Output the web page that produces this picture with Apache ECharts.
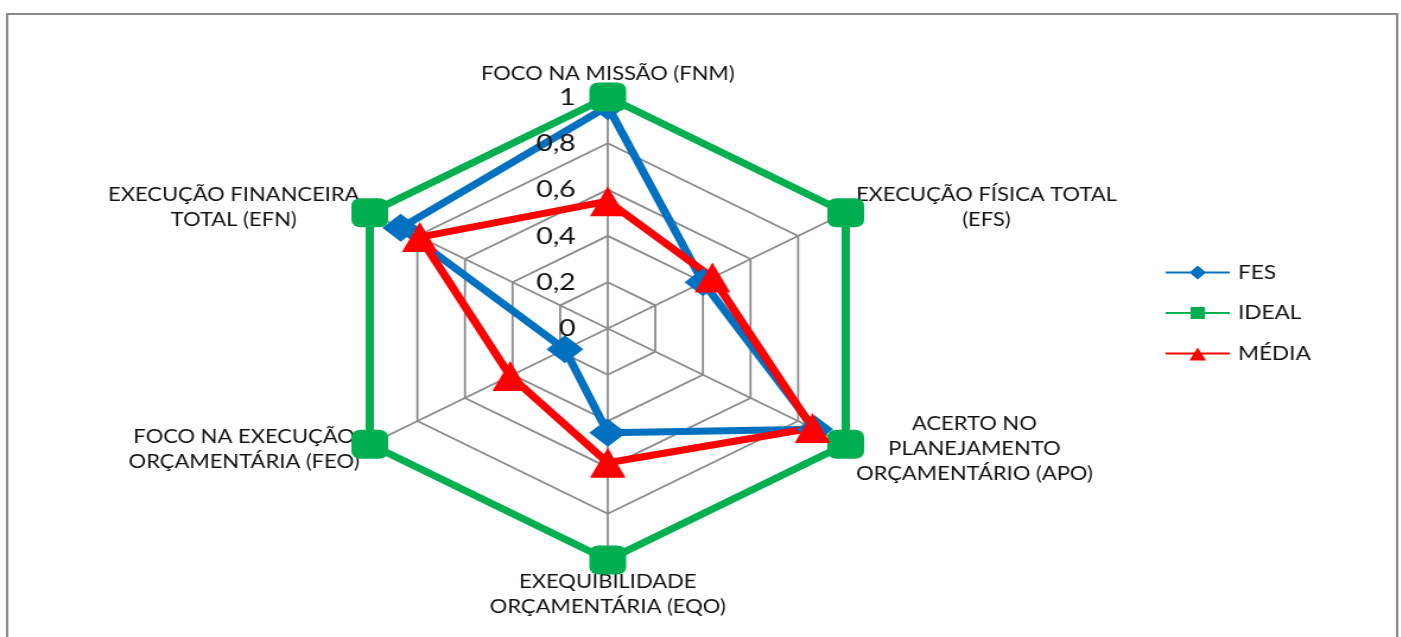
<!DOCTYPE html>
<html>
<head>
<meta charset="utf-8">
<script src="https://cdn.jsdelivr.net/npm/echarts@6/dist/echarts.min.js"></script>
<style>
  html, body { margin: 0; padding: 0; background: #fff; overflow: hidden; }
  /* the reference picture is wider than tall by ~1.187, so the round radar is stretched */
  #chart { width: 1180px; height: 637px; transform: scaleX(1.187); transform-origin: 0 0; }
</style>
</head>
<body>
<div id="chart"></div>
<script>
// counterclockwise from the top, as ECharts lays out radar indicators
const indicatorNames = [
  'FOCO NA MISSÃO (FNM)',
  'EXECUÇÃO FINANCEIRA\nTOTAL (EFN)',
  'FOCO NA EXECUÇÃO\nORÇAMENTÁRIA (FEO)',
  'EXEQUIBILIDADE\nORÇAMENTÁRIA (EQO)',
  'ACERTO NO\nPLANEJAMENTO\nORÇAMENTÁRIO (APO)',
  'EXECUÇÃO FÍSICA TOTAL\n(EFS)'
]
const fesValues = [0.96, 0.87, 0.18, 0.45, 0.87, 0.40]
const idealValues = [1, 1, 1, 1, 1, 1]
const mediaValues = [0.55, 0.79, 0.41, 0.58, 0.86, 0.44]
const seriesNames = ['FES', 'IDEAL', 'MÉDIA']

const FONT = 'Lato'
const CENTER = [512, 328.5]
const RADIUS = 231.5
const chart = echarts.init(document.getElementById('chart'))

const iconLine = 'M0,6 L54,6 L54,8 L0,8 Z '
const icons = {
  FES: 'path://' + iconLine + 'M27,0 L34,7 L27,14 L20,7 Z',
  IDEAL: 'path://' + iconLine + 'M21,1 L33,1 L33,13 L21,13 Z M27,0 L27,0 L27,14 Z',
  'MÉDIA': 'path://' + iconLine + 'M27,1 L34,14 L20,14 Z M27,0 L27,0 L27,0 Z'
}

const option = {
  backgroundColor: '#fff',
  animation: false,
  graphic: [{
    type: 'rect',
    shape: { x: 6, y: 14, width: 1171, height: 650 },
    style: { fill: 'none', stroke: '#898989', lineWidth: 2 },
    silent: true
  }],
  legend: {
    orient: 'vertical',
    left: 977,
    top: 258,
    itemWidth: 54,
    itemHeight: 14,
    itemGap: 21.5,
    data: seriesNames.map(n => ({ name: n, icon: icons[n] })),
    itemStyle: { borderWidth: 0 },
    textStyle: { fontFamily: FONT, fontSize: 19, color: '#111', padding: [0, 0, 0, 2] }
  },
  radar: [
    {
      center: CENTER,
      radius: RADIUS,
      shape: 'polygon',
      splitNumber: 5,
      nameGap: 10,
      axisName: {
        color: '#111',
        fontFamily: FONT,
        fontSize: 18.5,
        lineHeight: 25,
        formatter: name => name.split('\n').map(l => '{c|' + l + '}').join('\n'),
        rich: {
          c: { align: 'center', fontFamily: FONT, fontSize: 18.5, lineHeight: 25, color: '#111' }
        }
      },
      axisLine: { lineStyle: { color: '#8c8c8c', width: 1.8 } },
      splitLine: { lineStyle: { color: '#8c8c8c', width: 1.8 } },
      splitArea: { show: false },
      axisLabel: { show: false },
      indicator: indicatorNames.map(n => ({ name: n, min: 0, max: 1 }))
    },
    {
      // second copy only for the tick labels, so they sit above the series lines
      z: 10,
      center: CENTER,
      radius: RADIUS,
      shape: 'polygon',
      splitNumber: 5,
      axisName: { show: false },
      axisLine: { show: false },
      splitLine: { show: false },
      splitArea: { show: false },
      axisLabel: { show: false },
      indicator: indicatorNames.map((n, i) => {
        const ind = { name: n, min: 0, max: 1 }
        if (i === 0) {
          ind.axisLabel = {
            show: true,
            fontFamily: FONT,
            fontSize: 24,
            color: '#111',
            margin: 27,
            formatter: v => String(+v.toFixed(1)).replace('.', ',')
          }
        }
        return ind
      })
    }
  ],
  series: [
    {
      type: 'radar',
      name: 'FES',
      symbol: 'diamond',
      symbolSize: [31, 28],
      lineStyle: { color: '#0070C0', width: 7 },
      itemStyle: { color: '#0070C0' },
      data: [{ name: 'FES', value: fesValues }]
    },
    {
      type: 'radar',
      name: 'IDEAL',
      symbol: 'roundRect',
      symbolSize: [31, 29],
      lineStyle: { color: '#00B050', width: 7 },
      itemStyle: { color: '#00B050' },
      data: [{ name: 'IDEAL', value: idealValues }]
    },
    {
      type: 'radar',
      name: 'MÉDIA',
      symbol: 'triangle',
      symbolSize: [30, 30],
      lineStyle: { color: '#FF0000', width: 7 },
      itemStyle: { color: '#FF0000' },
      data: [{ name: 'MÉDIA', value: mediaValues }]
    }
  ]
}

chart.setOption(option)
</script>
</body>
</html>
